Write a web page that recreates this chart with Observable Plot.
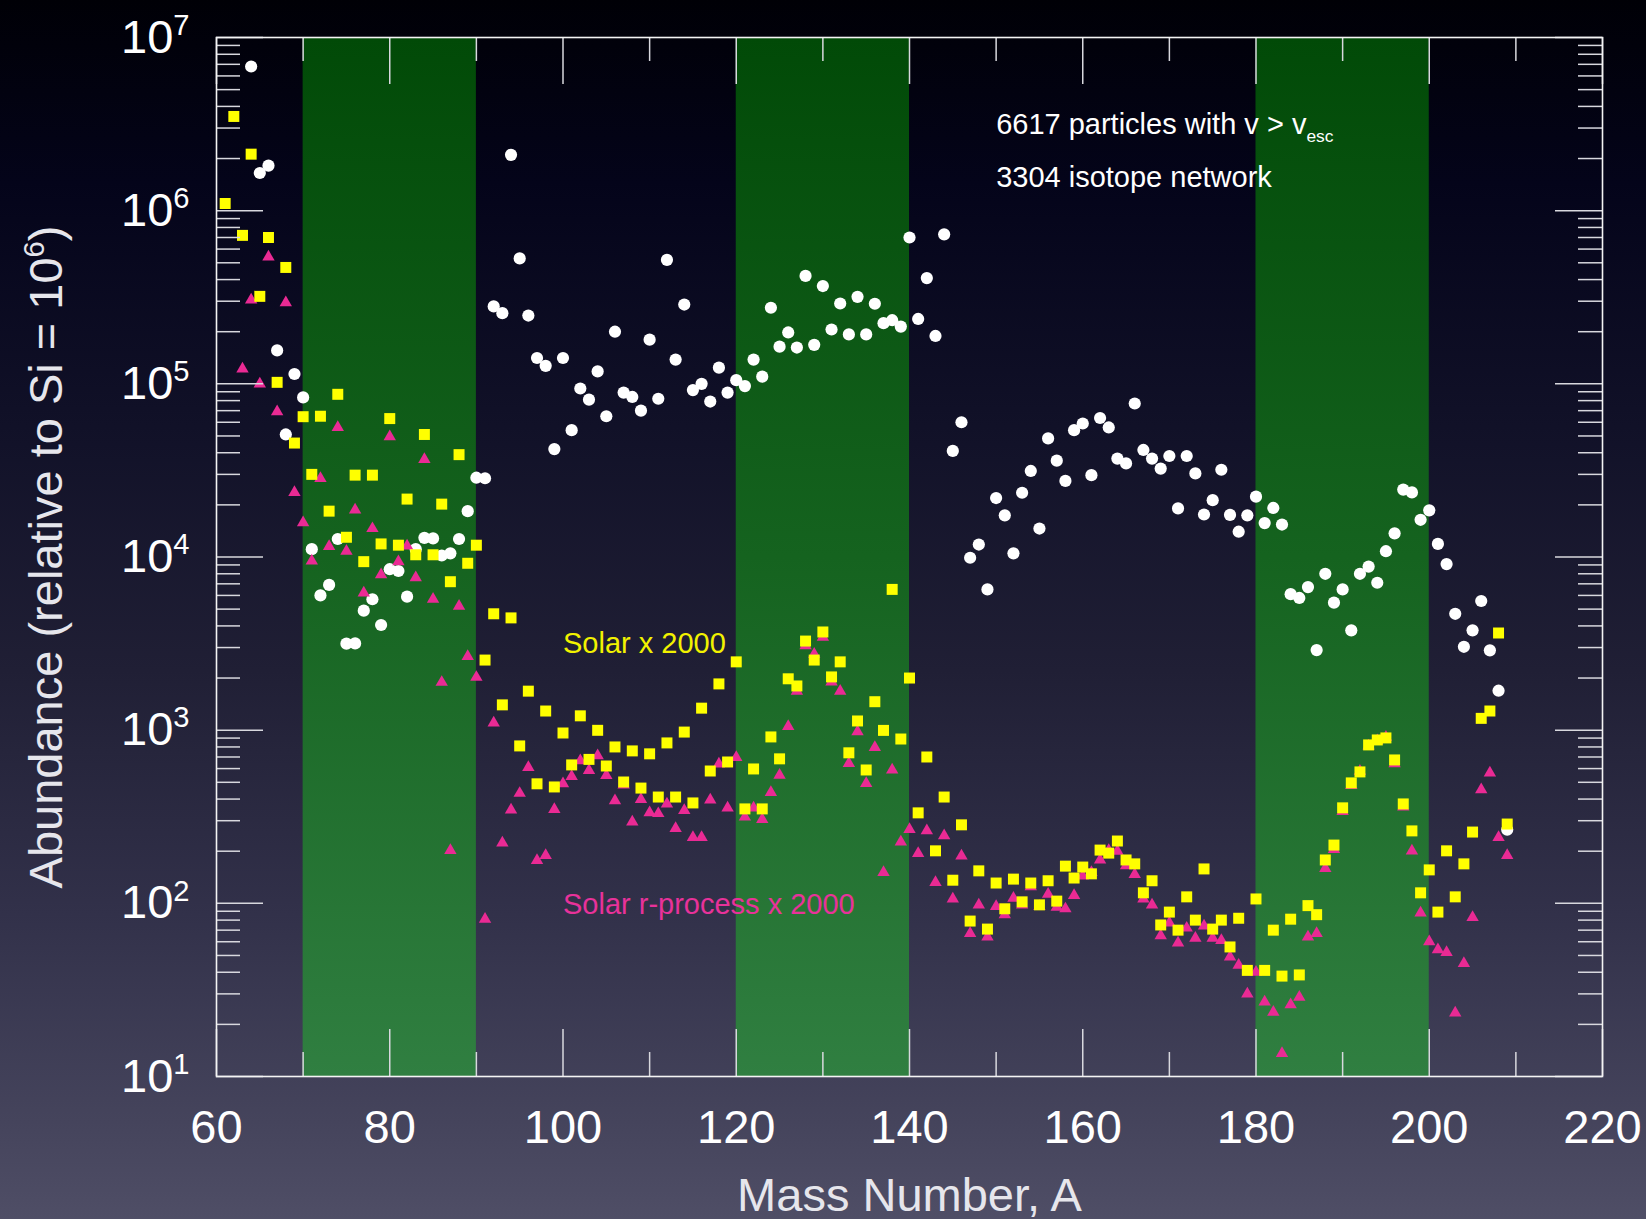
<!DOCTYPE html>
<html><head><meta charset="utf-8">
<script src="https://cdn.jsdelivr.net/npm/d3@7"></script>
<script src="https://cdn.jsdelivr.net/npm/@observablehq/plot@0.6"></script>
<style>
html,body{margin:0;padding:0;width:1646px;height:1219px;overflow:hidden;}
body{background:linear-gradient(to bottom,#000006 0%,#04041a 15%,#111128 35%,#201f35 55%,#32314a 75%,#45445c 92%,#4f4e66 100%);}
#chart svg{display:block}
</style></head><body><div id="chart"></div>
<script>
// ---- data ----
// model abundances (white circles), mass numbers 64..209
const modelStartA = 64;
const modelAbund = [
  6.8e6, 1.65e6, 1.82e6, 1.56e5, 5.1e4, 1.14e5, 8.35e4, 1.11e4, 6.0e3, 6.9e3,   // 64-73
  1.27e4, 3.16e3, 3.17e3, 4.9e3, 5.7e3, 4.05e3, 8.5e3, 8.3e3, 5.9e3, 1.11e4,   // 74-83
  1.29e4, 1.28e4, 1.02e4, 1.05e4, 1.27e4, 1.84e4, 2.87e4, 2.85e4, 2.8e5, 2.56e5, // 84-93
  2.1e6, 5.3e5, 2.48e5, 1.41e5, 1.27e5, 4.2e4, 1.41e5, 5.4e4, 9.4e4, 8.1e4,    // 94-103
  1.18e5, 6.5e4, 2.0e5, 8.9e4, 8.4e4, 7.0e4, 1.8e5, 8.2e4, 5.2e5, 1.38e5,      // 104-113
  2.87e5, 9.2e4, 1.0e5, 7.9e4, 1.24e5, 8.9e4, 1.05e5, 9.7e4, 1.38e5, 1.1e5,    // 114-123
  2.75e5, 1.64e5, 1.98e5, 1.62e5, 4.2e5, 1.68e5, 3.67e5, 2.06e5, 2.91e5, 1.93e5, // 124-133
  3.18e5, 1.93e5, 2.9e5, 2.24e5, 2.33e5, 2.14e5, 7.0e5, 2.37e5, 4.08e5, 1.89e5, // 134-143
  7.3e5, 4.1e4, 6.0e4, 9.9e3, 1.18e4, 6.5e3, 2.19e4, 1.74e4, 1.05e4, 2.35e4,   // 144-153
  3.14e4, 1.46e4, 4.84e4, 3.6e4, 2.75e4, 5.4e4, 5.9e4, 2.97e4, 6.35e4, 5.6e4,  // 154-163
  3.7e4, 3.47e4, 7.7e4, 4.15e4, 3.7e4, 3.24e4, 3.83e4, 1.91e4, 3.83e4, 3.04e4, // 164-173
  1.76e4, 2.13e4, 3.19e4, 1.75e4, 1.4e4, 1.74e4, 2.23e4, 1.57e4, 1.92e4, 1.54e4, // 174-183
  6.1e3, 5.8e3, 6.7e3, 2.9e3, 8.0e3, 5.45e3, 6.5e3, 3.77e3, 8.0e3, 8.8e3,     // 184-193
  7.1e3, 1.08e4, 1.37e4, 2.45e4, 2.36e4, 1.64e4, 1.86e4, 1.19e4, 9.1e3, 4.7e3, // 194-203
  3.03e3, 3.77e3, 5.57e3, 2.89e3, 1.69e3, 266                                  // 204-209
];
// solar x 2000 (yellow squares), mass numbers 61..209
const solarStartA = 61;
const solarAbund = [
  1.1e6, 3.5e6, 7.2e5, 2.12e6, 3.2e5, 7.0e5, 1.02e5, 4.7e5, 4.55e4, 6.46e4,   // 61-70
  3.0e4, 6.5e4, 1.84e4, 8.7e4, 1.3e4, 2.97e4, 9.4e3, 2.97e4, 1.19e4, 6.3e4,   // 71-80
  1.17e4, 2.16e4, 1.03e4, 5.1e4, 1.03e4, 2.02e4, 7.2e3, 3.9e4, 9.2e3, 1.17e4, // 81-90
  2.54e3, 4.7e3, 1.4e3, 4.45e3, 811, 1.68e3, 490, 1.29e3, 470, 963,          // 91-100
  630, 1.21e3, 678, 998, 621, 800, 502, 759, 463, 730,                        // 101-110
  411, 844, 411, 975, 380, 1.34e3, 581, 1.85e3, 655, 2.48e3,                  // 111-120
  351, 597, 351, 914, 683, 1.98e3, 1.8e3, 3.27e3, 2.54e3, 3.69e3,             // 121-130
  2.03e3, 2.48e3, 740, 1.13e3, 589, 1.46e3, 997, 6.5e3, 889, 2.0e3,           // 131-140
  333, 700, 201, 411, 136, 284, 79, 154, 71, 131,                             // 141-150
  93, 138, 102, 131, 98, 135, 103, 164, 140, 162,                             // 151-160
  148, 203, 195, 229, 178, 169, 115, 135, 75, 89,                             // 161-170
  70, 109, 80, 158, 71, 80, 56, 82, 41, 106,                                  // 171-180
  41, 70, 38, 81, 38.6, 97, 86, 178, 217, 356,                                // 181-190
  496, 574, 822, 878, 902, 673, 375, 262, 115, 156,                           // 191-200
  89, 201, 109, 169, 258, 1.17e3, 1.29e3, 3.64e3, 287                         // 201-209
];
// solar r-process x 2000 (pink triangles), mass numbers 63..209
const rprocStartA = 63;
const rprocAbund = [
  1.22e5, 3.05e5, 1.0e5, 5.4e5, 6.9e4, 2.94e5, 2.36e4, 1.58e4,               // 63-70
  9.5e3, 2.84e4, 1.15e4, 5.6e4, 1.08e4, 1.87e4, 6.2e3, 1.46e4, 7.9e3, 4.95e4, // 71-80
  9.4e3, 1.16e4, 7.6e3, 3.66e4, 5.7e3, 1.89e3, 202, 5.2e3, 2.67e3, 2.02e3,   // 81-90
  81, 1.1e3, 223, 346, 432, 610, 177, 189, 349, 491,                          // 91-100
  541, 667, 586, 713, 548, 392, 483, 295, 398, 334,                           // 101-110
  330, 375, 271, 344, 240, 240, 395, 638, 356, 697,                           // 111-120
  315, 356, 305, 437, 550, 1.05e3, 1.68e3, 3.08e3, 2.75e3, 3.44e3,            // 121-130
  1.9e3, 1.68e3, 643, 980, 493, 796, 151, 589, 226, 267,                      // 131-140
  194, 263, 132, 246, 106, 188, 67, 98, 64, 96,                               // 141-150
  86, 107, 98, 125, 96, 113, 95, 93, 111, 144,                                // 151-160
  151, 178, 202, 200, 165, 147, 106, 98, 65, 77,                              // 161-170
  59, 72, 63, 74, 63, 61, 49, 44, 30, 40,                                     // 171-180
  27, 23.5, 13.6, 26, 28.7, 64, 67, 159, 205, 340,                            // 181-190
  480, 580, 810, 870, 910, 640, 360, 201, 88, 60,                             // 191-200
  54, 52, 23.3, 45, 83, 453, 566, 240, 189                                    // 201-209
];
// shaded mass ranges
const bandStart = [70, 120, 180];
const bandEnd = [90, 140, 200];
// tick values
const xMajor = [60, 80, 100, 120, 140, 160, 180, 200, 220];
const xMinor = [70, 90, 110, 130, 150, 170, 190, 210];
const yDecades = [1, 2, 3, 4, 5, 6, 7];
const yMinorMult = [2, 3, 4, 5, 6, 7, 8, 9];
// annotations (data coordinates)
const noteText = ["6617 particles with v > v_{esc}", "3304 isotope network", "Solar x 2000", "Solar r-process x 2000"];
const noteA = [150, 150, 100, 100];
const noteAbund = [3.14e6, 1.56e6, 3.14e3, 98.6];
const xTitle = "Mass Number, A";
const yTitle = "Abundance (relative to Si = 10^{6})";

// ---- build tables ----
const model = modelAbund.map((v, i) => ({A: modelStartA + i, v}));
const solar = solarAbund.map((v, i) => ({A: solarStartA + i, v}));
const rproc = rprocAbund.map((v, i) => ({A: rprocStartA + i, v}));
const bands = bandStart.map((s, i) => ({start: s, end: bandEnd[i]}));
const yMajor = yDecades.map(e => Math.pow(10, e));
const yMinor = [];
for (const e of yDecades.slice(0, -1)) for (const m of yMinorMult) yMinor.push(m * Math.pow(10, e));
const notes = noteText.map((t, i) => ({t, A: noteA[i], v: noteAbund[i]}));

// ---- layout ----
const W = 1646, H = 1219;
const mL = 216, mR = 44, mT = 37, mB = 143;
const innerW = W - mL - mR, innerH = H - mT - mB;
const tickColor = "#d8d8de";
const majorLen = 47, minorLen = 24;
const font = "'Liberation Sans', Arial, Helvetica, sans-serif";

const chart = Plot.plot({
  width: W, height: H,
  marginLeft: mL, marginRight: mR, marginTop: mT, marginBottom: mB,
  style: {background: "transparent", fontFamily: font, color: "#ffffff", overflow: "visible"},
  x: {domain: [60, 220], label: null},
  y: {type: "log", domain: [10, 1e7], label: null},
  marks: [
    Plot.rect(bands, {x1: "start", x2: "end", fill: "url(#bandGrad)"}),
    Plot.dot(model, {x: "A", y: "v", r: 6.1, symbol: "circle", fill: "#ffffff", stroke: "none"}),
    Plot.dot(rproc, {x: "A", y: "v", r: 4.6, symbol: "triangle", fill: "#ea2a94", stroke: "none"}),
    Plot.dot(solar, {x: "A", y: "v", r: 6.2, symbol: "square", fill: "#ffff00", stroke: "none"}),
    // inward ticks, all four sides
    Plot.tickX(xMajor, {x: d => d, insetTop: innerH - majorLen, stroke: tickColor, strokeWidth: 1.5}),
    Plot.tickX(xMajor, {x: d => d, insetBottom: innerH - majorLen, stroke: tickColor, strokeWidth: 1.5}),
    Plot.tickX(xMinor, {x: d => d, insetTop: innerH - minorLen, stroke: tickColor, strokeWidth: 1.5}),
    Plot.tickX(xMinor, {x: d => d, insetBottom: innerH - minorLen, stroke: tickColor, strokeWidth: 1.5}),
    Plot.tickY(yMajor, {y: d => d, insetRight: innerW - majorLen, stroke: tickColor, strokeWidth: 1.5}),
    Plot.tickY(yMajor, {y: d => d, insetLeft: innerW - majorLen, stroke: tickColor, strokeWidth: 1.5}),
    Plot.tickY(yMinor, {y: d => d, insetRight: innerW - minorLen, stroke: tickColor, strokeWidth: 1.5}),
    Plot.tickY(yMinor, {y: d => d, insetLeft: innerW - minorLen, stroke: tickColor, strokeWidth: 1.5}),
    Plot.frame({stroke: "#f4f4f4", strokeWidth: 1.6}),
    Plot.axisX(xMajor, {tickSize: 0, tickPadding: 33, fontSize: 47, label: null}),
    Plot.axisY(yMajor, {tickSize: 0, tickPadding: 27, fontSize: 47, label: null,
      tickFormat: d => `10^{${Math.round(Math.log10(d))}}`}),
    Plot.text([xTitle], {frameAnchor: "bottom", dy: 119, fontSize: 47, fill: "#e6e6ec", lineAnchor: "middle"}),
    Plot.text([yTitle], {frameAnchor: "left", dx: -170, rotate: -90, fontSize: 47, fill: "#e6e6ec", lineAnchor: "middle", textAnchor: "middle"}),
    Plot.text(notes.slice(0, 2), {x: "A", y: "v", text: "t", textAnchor: "start", lineAnchor: "middle", fontSize: 29, fill: "#ffffff"}),
    Plot.text(notes.slice(2, 3), {x: "A", y: "v", text: "t", textAnchor: "start", lineAnchor: "middle", fontSize: 29, fill: "#f2f200"}),
    Plot.text(notes.slice(3, 4), {x: "A", y: "v", text: "t", textAnchor: "start", lineAnchor: "middle", fontSize: 29, fill: "#e8329a"})
  ]
});

const NS = "http://www.w3.org/2000/svg";
const defs = document.createElementNS(NS, "defs");
defs.innerHTML = `<linearGradient id="bandGrad" x1="0" y1="0" x2="0" y2="1">
  <stop offset="0" stop-color="#014a07"/><stop offset="0.5" stop-color="#15631f"/><stop offset="1" stop-color="#307f41"/></linearGradient>`;
chart.insertBefore(defs, chart.firstChild);
document.getElementById("chart").append(chart);

// superscript / subscript markup: ^{..} and _{..}
function enrich(el) {
  const s = el.textContent;
  const re = /(\^|_)\{([^}]*)\}/g;
  if (!/(\^|_)\{/.test(s)) return;
  const cs = getComputedStyle(el);
  const fs = parseFloat(cs.fontSize) || 16;
  const anchor = cs.textAnchor;
  while (el.firstChild) el.removeChild(el.firstChild);
  let last = 0, cur = 0, m;
  const add = (txt, target, size) => {
    const t = document.createElementNS(NS, "tspan");
    if (target !== cur) t.setAttribute("dy", (target - cur).toFixed(2));
    cur = target;
    if (size) t.setAttribute("font-size", size.toFixed(2));
    t.textContent = txt;
    el.appendChild(t);
  };
  while ((m = re.exec(s))) {
    if (m.index > last) add(s.slice(last, m.index), 0, null);
    if (m[1] === "^") add(m[2], -0.38 * fs, 0.62 * fs);
    else add(m[2], 0.28 * fs, 0.6 * fs);
    last = re.lastIndex;
  }
  if (last < s.length) add(s.slice(last), 0, null);
  // anchor the whole run explicitly (measure it, then place from its start)
  if (anchor === "middle" || anchor === "end") {
    const len = el.getComputedTextLength();
    const x0 = parseFloat(el.getAttribute("x")) || 0;
    el.setAttribute("text-anchor", "start");
    el.setAttribute("x", (x0 - (anchor === "middle" ? len / 2 : len)).toFixed(2));
  }
}
chart.querySelectorAll("text").forEach(t => {
  const spans = t.querySelectorAll("tspan");
  if (spans.length) spans.forEach(enrich); else enrich(t);
});
</script></body></html>
